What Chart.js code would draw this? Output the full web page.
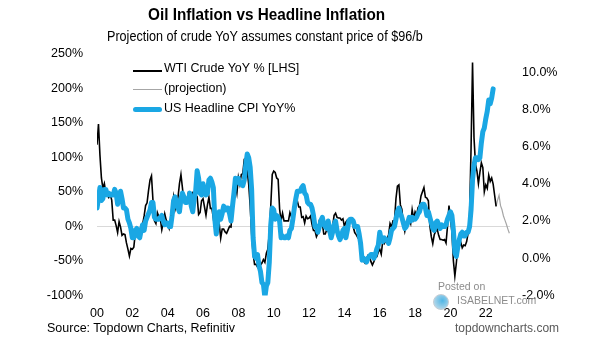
<!DOCTYPE html>
<html>
<head>
<meta charset="utf-8">
<script src="https://cdn.jsdelivr.net/npm/chart.js@4.4.1/dist/chart.umd.min.js"></script>
<style>
  body { margin: 0; background: #fff; font-family: Arial, "Liberation Sans", sans-serif; }
  #wrap { position: relative; width: 605px; height: 341px; overflow: hidden; }
  #myChart { position: absolute; left: 0; top: 0; }
  .txt { position: absolute; white-space: nowrap; line-height: 1; color: #000; }
  .sq { transform: scaleX(0.9); transform-origin: left center; }
  .key { position: absolute; left: 133px; width: 29px; }
</style>
</head>
<body>
<div id="wrap">
  <canvas id="myChart" width="605" height="341"></canvas>
  <div class="txt sq" style="left:148px; top:6px; font-size:17px; font-weight:bold;">Oil Inflation vs Headline Inflation</div>
  <div class="txt sq" style="left:107px; top:29px; font-size:14px;">Projection of crude YoY assumes constant price of $96/b</div>

  <div class="key" style="top:70px; height:2px; background:#000;"></div>
  <div class="txt" style="left:164px; top:62px; font-size:12.5px;">WTI Crude YoY % [LHS]</div>
  <div class="key" style="top:89px; height:1px; background:#a6a6a6;"></div>
  <div class="txt" style="left:164px; top:82px; font-size:12.5px;">(projection)</div>
  <div class="key" style="top:107px; height:5px; border-radius:3px; background:#1aa7e4;"></div>
  <div class="txt" style="left:164px; top:102px; font-size:12.5px;">US Headline CPI YoY%</div>

  <div class="txt" style="left:438px; top:281px; font-size:10.5px; color:#8c8c8c;">Posted on</div>
  <div style="position:absolute; left:433px; top:294px; width:14px; height:14px; border-radius:50%; background:radial-gradient(circle at 60% 40%, #4fb6e6, #d5e2ea); border:1px solid #c4ccd3;"></div>
  <div class="txt" style="left:457px; top:295px; font-size:10.5px; color:#8c8c8c;">ISABELNET.com</div>

  <div class="txt" style="left:47px; top:322px; font-size:12.5px;">Source: Topdown Charts, Refinitiv</div>
  <div class="txt" style="left:455px; top:322px; font-size:12px; color:#595959;">topdowncharts.com</div>
</div>
<script>
// tick labels for the x axis (years)
var tickYears = [2000, 2002, 2004, 2006, 2008, 2010, 2012, 2014, 2016, 2018, 2020, 2022];
var tickLabels = ['00', '02', '04', '06', '08', '10', '12', '14', '16', '18', '20', '22'];

// WTI crude YoY %, monthly from Jan 2000 to Aug 2022
var wtiStart = 2000;
var wtiYoY = [
    118, 148, 103, 70, 55, 62, 48, 47, 42, 46, 38, 9,
    9, 1, -9, 7, -1, -13, -11, -12, -24, -33, -43, -32,
    -33, -30, -10, -4, -6, -8, 2, 3, 15, 30, 34, 52,
    67, 73, 38, 8, 4, 20, 14, 11, -5, 5, 18, 9,
    4, -3, 9, 30, 43, 24, 32, 42, 62, 75, 56, 35,
    36, 38, 48, 44, 24, 48, 45, 45, 43, 17, 20, 37,
    40, 28, 16, 31, 42, 26, 26, 12, -3, -5, 1, 4,
    -17, -4, -4, -8, -10, -5, 0, -1, 25, 46, 60, 48,
    71, 61, 75, 76, 97, 98, 80, 61, 30, -11, -40, -55,
    -55, -59, -55, -56, -53, -48, -52, -39, -33, -10, 30, 75,
    80, 78, 70, 68, 25, 8, 19, 8, 8, 8, 8, 20,
    14, 16, 27, 30, 37, 28, 28, 13, 14, 5, 15, 11,
    12, 15, 3, -6, -6, -15, -10, 9, 11, 4, -11, -11,
    -5, -7, -13, -11, 0, 16, 19, 13, 12, 12, 9, 11,
    0, 6, 9, 11, 8, 10, -1, -9, -12, -16, -19, -39,
    -50, -50, -53, -47, -42, -43, -51, -56, -51, -45, -44, -37,
    -33, -40, -22, -25, -21, -18, -12, 4, -1, 8, 8, 40,
    58, 60, 31, 25, 4, -7, 4, 7, 10, 4, 24, 11,
    21, 16, 27, 30, 44, 50, 56, 42, 41, 37, 1, -15,
    -25, -12, -7, -4, -13, -19, -19, -20, -19, -24, 0, 30,
    12, -8, -50, -72, -53, -30, -29, -23, -31, -27, -28, -22,
    -10, 17, 113, 237, 128, 90, 80, 62, 78, 92, 85, 50,
    60, 55, 74, 65, 70, 61, 45, 29
];

// projection of crude YoY, Aug 2022 to May 2023
var projStart = 2022 + 7 / 12;
var projYoY = [29, 38, 45, 30, 24, 15, 9, 3, -4, -10];

// US headline CPI YoY %, monthly from Jan 2000 to Jun 2022
var cpiStart = 2000;
var cpiYoY = [
    2.7, 3.2, 3.8, 3.1, 3.2, 3.7, 3.7, 3.4, 3.5, 3.4, 3.4, 3.4,
    3.7, 3.5, 2.9, 3.3, 3.6, 3.2, 2.7, 2.7, 2.6, 2.1, 1.9, 1.6,
    1.1, 1.1, 1.5, 1.6, 1.2, 1.1, 1.5, 1.8, 1.5, 2.0, 2.2, 2.4,
    2.6, 3.0, 3.0, 2.2, 2.1, 2.1, 2.1, 2.2, 2.3, 2.0, 1.8, 1.9,
    1.9, 1.7, 1.7, 2.3, 3.1, 3.3, 3.0, 2.7, 2.5, 3.2, 3.5, 3.3,
    3.0, 3.0, 3.1, 3.5, 2.8, 2.5, 3.2, 3.6, 4.7, 4.3, 3.5, 3.4,
    4.0, 3.6, 3.4, 3.5, 4.2, 4.3, 4.1, 3.8, 2.1, 1.3, 2.0, 2.5,
    2.1, 2.4, 2.8, 2.6, 2.7, 2.7, 2.4, 2.0, 2.8, 3.5, 4.3, 4.1,
    4.3, 4.0, 4.0, 3.9, 4.2, 5.0, 5.6, 5.4, 4.9, 3.7, 1.1, 0.1,
    0.0, 0.2, -0.4, -0.7, -1.3, -1.4, -2.1, -1.5, -1.3, -0.2, 1.8, 2.7,
    2.6, 2.1, 2.3, 2.2, 2.0, 1.1, 1.2, 1.1, 1.1, 1.2, 1.1, 1.5,
    1.6, 2.1, 2.7, 3.2, 3.6, 3.6, 3.6, 3.8, 3.9, 3.5, 3.4, 3.0,
    2.9, 2.9, 2.7, 2.3, 1.7, 1.7, 1.4, 1.7, 2.0, 2.2, 1.8, 1.7,
    1.6, 2.0, 1.5, 1.1, 1.4, 1.8, 2.0, 1.5, 1.2, 1.0, 1.2, 1.5,
    1.6, 1.1, 1.5, 2.0, 2.1, 2.1, 2.0, 1.7, 1.7, 1.7, 1.3, 0.8,
    -0.1, 0.0, -0.1, -0.2, 0.0, 0.1, 0.2, 0.2, 0.0, 0.2, 0.5, 0.7,
    1.4, 1.0, 0.9, 1.1, 1.0, 1.0, 0.8, 1.1, 1.5, 1.6, 1.7, 2.1,
    2.5, 2.7, 2.4, 2.2, 1.9, 1.6, 1.7, 1.9, 2.2, 2.0, 2.2, 2.1,
    2.1, 2.2, 2.4, 2.5, 2.8, 2.9, 2.9, 2.7, 2.3, 2.5, 2.2, 1.9,
    1.6, 1.5, 1.9, 2.0, 1.8, 1.6, 1.8, 1.7, 1.7, 1.8, 2.1, 2.3,
    2.5, 2.3, 1.5, 0.3, 0.1, 0.6, 1.0, 1.3, 1.4, 1.2, 1.2, 1.4,
    1.4, 1.7, 2.6, 4.2, 5.0, 5.4, 5.4, 5.3, 5.4, 6.2, 6.8, 7.0,
    7.5, 7.9, 8.5, 8.3, 8.6, 9.1
];

function monthly(values, start) {
    return values.map(function (v, i) {
        return { x: start + i / 12, y: v };
    });
}

var myChart = document.getElementById("myChart");
var tickFont = { family: 'Arial, "Liberation Sans", sans-serif', size: 12.5 };

var new_chart = new Chart(myChart, {
    type: 'line',
    data: {
        datasets: [{
            label: 'WTI Crude YoY % [LHS]',
            data: monthly(wtiYoY, wtiStart),
            yAxisID: 'y',
            borderColor: '#000000',
            borderWidth: 1.6,
            pointRadius: 0,
            order: 1
        }, {
            label: '(projection)',
            data: monthly(projYoY, projStart),
            yAxisID: 'y',
            borderColor: '#a6a6a6',
            borderWidth: 1.2,
            pointRadius: 0,
            order: 2
        }, {
            label: 'US Headline CPI YoY%',
            data: monthly(cpiYoY, cpiStart),
            yAxisID: 'y1',
            borderColor: '#1aa7e4',
            borderWidth: 5,
            borderCapStyle: 'round',
            borderJoinStyle: 'round',
            pointRadius: 0,
            order: 0
        }]
    },
    options: {
        responsive: false,
        maintainAspectRatio: false,
        animation: false,
        layout: { padding: { top: 53.5, left: 0, right: 0, bottom: 0 } },
        plugins: {
            legend: { display: false },
            tooltip: { enabled: false }
        },
        scales: {
            x: {
                type: 'linear',
                min: 2000,
                max: 2023.37,
                grid: { display: false },
                border: { display: false },
                afterBuildTicks: function (scale) {
                    scale.ticks = tickYears.map(function (v) { return { value: v }; });
                },
                afterFit: function (scale) { scale.height = 45.5; },
                ticks: {
                    autoSkip: false,
                    maxRotation: 0,
                    padding: 3,
                    color: '#000',
                    font: { family: tickFont.family, size: 12.5 },
                    callback: function (value, index) { return tickLabels[index]; }
                }
            },
            y: {
                position: 'left',
                min: -100,
                max: 250,
                border: { display: false },
                grid: {
                    drawTicks: false,
                    lineWidth: 1,
                    color: function (ctx) {
                        return ctx.tick && ctx.tick.value === 0 ? '#d9d9d9' : 'rgba(0,0,0,0)';
                    }
                },
                afterFit: function (scale) { scale.width = 97; },
                ticks: {
                    stepSize: 50,
                    padding: 14,
                    color: '#000',
                    font: tickFont,
                    callback: function (value) { return value + '%'; }
                }
            },
            y1: {
                position: 'right',
                min: -2,
                max: 11,
                border: { display: false },
                grid: { display: false, drawTicks: false },
                afterBuildTicks: function (scale) {
                    scale.ticks = [-2, 0, 2, 4, 6, 8, 10].map(function (v) { return { value: v }; });
                },
                afterFit: function (scale) { scale.width = 95; },
                ticks: {
                    padding: 12,
                    color: '#000',
                    font: tickFont,
                    callback: function (value) { return value.toFixed(1) + '%'; }
                }
            }
        }
    }
});
</script>
</body>
</html>
